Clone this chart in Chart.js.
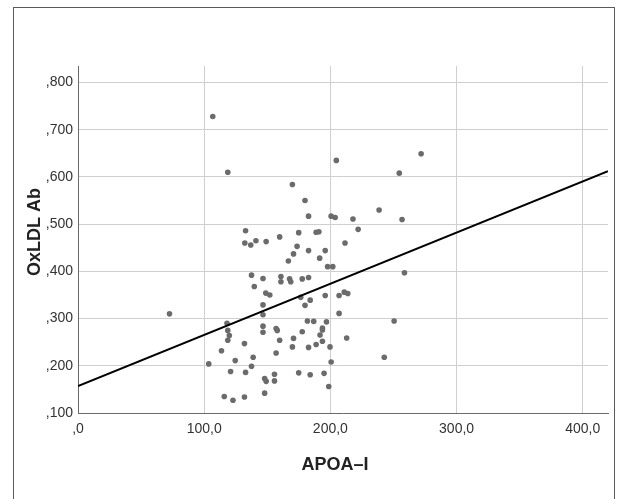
<!DOCTYPE html>
<html>
<head>
<meta charset="utf-8">
<script src="https://cdn.jsdelivr.net/npm/chart.js@4"></script>
<style>
  html, body { margin: 0; padding: 0; background: #fff; }
  #wrap { position: relative; width: 621px; height: 499px; overflow: hidden; }
  #frame { position: absolute; left: 13px; top: 7px; width: 602px; height: 520px;
           border: 1.6px solid #5a5a5a; border-bottom: none; box-sizing: border-box; pointer-events: none; }
  canvas { position: absolute; left: 0; top: 0; }
</style>
</head>
<body>
<div id="wrap">
  <canvas id="c" width="621" height="499"></canvas>
  <div id="frame"></div>
</div>
<script>
// Scatter data
const apoa = [106.8,118.7,72.5,271.9,204.7,254.6,169.9,179.9,182.7,200.6,203.8,217.9,238.6,256.8,222.0,132.8,174.9,188.7,190.9,159.8,
  132.2,136.9,141.0,149.1,211.6,173.6,182.7,195.9,170.8,191.5,166.7,197.8,201.9,258.7,137.5,146.6,160.8,160.8,167.7,168.6,
  177.7,182.7,139.7,148.8,152.0,176.5,184.0,195.9,206.9,211.0,213.8,146.6,179.9,146.6,206.9,118.1,118.7,119.9,118.7,146.6,
  146.6,157.0,157.9,181.8,186.8,196.9,250.5,177.7,193.7,193.7,191.8,170.8,159.8,193.7,188.7,212.9,131.9,113.7,169.9,182.7,
  199.7,157.0,138.8,242.7,124.6,103.6,200.6,137.5,120.9,132.8,174.9,195.0,155.7,184.0,147.9,149.1,155.7,198.7,147.9,115.9,
  131.9,122.8];
const oxldl = [0.728,0.610,0.310,0.649,0.635,0.608,0.584,0.550,0.517,0.517,0.514,0.511,0.530,0.510,0.489,0.486,0.482,0.483,0.484,0.473,
  0.460,0.456,0.465,0.463,0.460,0.453,0.444,0.444,0.437,0.428,0.422,0.410,0.410,0.397,0.392,0.385,0.389,0.378,0.384,0.378,
  0.384,0.387,0.368,0.354,0.350,0.345,0.339,0.349,0.349,0.356,0.353,0.329,0.328,0.308,0.311,0.290,0.275,0.264,0.254,0.284,
  0.271,0.279,0.275,0.295,0.294,0.293,0.295,0.272,0.280,0.276,0.265,0.258,0.254,0.252,0.245,0.259,0.247,0.232,0.240,0.239,
  0.240,0.227,0.218,0.218,0.211,0.204,0.208,0.199,0.188,0.186,0.185,0.184,0.182,0.181,0.173,0.167,0.168,0.156,0.142,0.135,
  0.134,0.127];
// Fit line end points
const fitX = [0, 420];
const fitY = [0.157, 0.612];
// Axis ticks
const xTicks = [0, 100, 200, 300, 400];
const yTicks = [0.1, 0.2, 0.3, 0.4, 0.5, 0.6, 0.7, 0.8];
const xTitle = 'APOA–I';
const yTitle = 'OxLDL Ab';

const scatterPts = apoa.map((x, i) => ({x: x, y: oxldl[i]}));
const fitPts = fitX.map((x, i) => ({x: x, y: fitY[i]}));

const fmtX = v => (v === 0 ? ',0' : v.toFixed(1).replace('.', ','));
const fmtY = v => v.toFixed(3).replace(/^0\./, ',');

const titlesPlugin = {
  id: 'titles',
  afterDraw(chart) {
    const ctx = chart.ctx;
    ctx.save();
    ctx.fillStyle = '#222';
    ctx.font = 'bold 18px "Liberation Sans", Arial, sans-serif';
    ctx.textAlign = 'center';
    ctx.textBaseline = 'middle';
    ctx.fillText(xTitle, 335, 465);
    ctx.translate(35, 232);
    ctx.rotate(-Math.PI / 2);
    ctx.fillText(yTitle, 0, 0);
    ctx.restore();
  }
};

new Chart(document.getElementById('c'), {
  type: 'scatter',
  data: {
    datasets: [
      {
        type: 'line',
        data: fitPts,
        borderColor: '#000',
        borderWidth: 2,
        pointRadius: 0,
        fill: false,
        order: 0
      },
      {
        data: scatterPts,
        backgroundColor: '#6b6b6b',
        borderColor: '#6b6b6b',
        borderWidth: 0,
        pointRadius: 2.8,
        order: 1
      }
    ]
  },
  options: {
    responsive: false,
    animation: false,
    devicePixelRatio: 1,
    layout: { padding: { left: 0, top: 66, right: 13, bottom: 0 } },
    plugins: { legend: { display: false }, tooltip: { enabled: false } },
    scales: {
      x: {
        type: 'linear',
        min: 0, max: 420,
        afterFit(s) { s.height = 86; },
        afterBuildTicks(s) { s.ticks = xTicks.map(v => ({value: v})); },
        grid: { color: '#cfcfcf', lineWidth: 1, drawTicks: false },
        border: { color: '#6a6a6a', width: 1 },
        ticks: {
          padding: 8,
          color: '#333',
          font: { family: '"Liberation Sans", Arial, sans-serif', size: 14 },
          maxRotation: 0,
          callback: v => fmtX(v)
        }
      },
      y: {
        type: 'linear',
        min: 0.1, max: 0.835,
        afterFit(s) { s.width = 78; },
        afterBuildTicks(s) { s.ticks = yTicks.map(v => ({value: v})); },
        grid: { color: '#cfcfcf', lineWidth: 1, drawTicks: false },
        border: { color: '#6a6a6a', width: 1 },
        ticks: {
          padding: 5,
          color: '#333',
          font: { family: '"Liberation Sans", Arial, sans-serif', size: 14 },
          callback: v => fmtY(v)
        }
      }
    }
  },
  plugins: [titlesPlugin]
});
</script>
</body>
</html>
